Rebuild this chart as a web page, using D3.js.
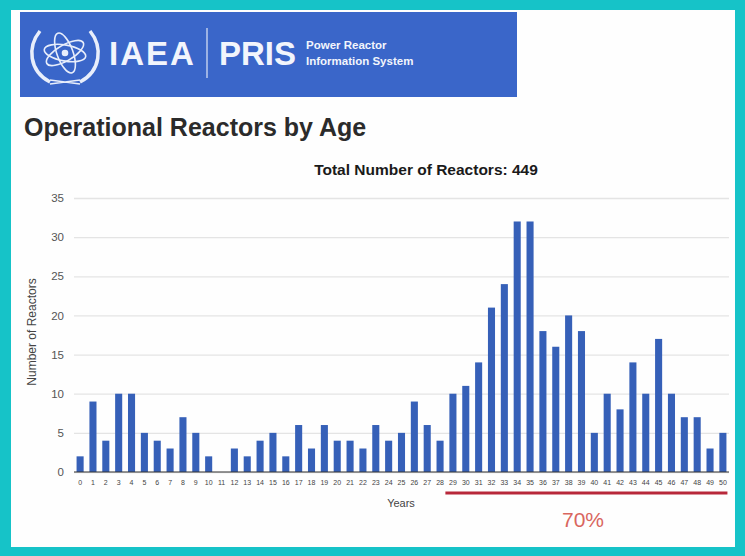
<!DOCTYPE html>
<html><head><meta charset="utf-8">
<script src="https://cdn.jsdelivr.net/npm/d3@7"></script>
<style>body{margin:0;background:#16c3c8;}svg{display:block;}</style>
</head><body><svg id="c" width="745" height="556"></svg>
<script>
const years = d3.range(0, 51);
const reactors = [2,9,4,10,10,5,4,3,7,5,2,0,3,2,4,5,2,6,3,6,4,4,3,6,4,5,9,6,4,10,11,14,21,24,32,32,18,16,20,18,5,10,8,14,10,17,10,7,7,3,5];
const yTicks = [0,5,10,15,20,25,30,35];
const titleText = "Operational Reactors by Age";
const subtitleText = "Total Number of Reactors: 449";
const highlightFrom = 29, highlightTo = 50, highlightLabel = "70%";

const FF = "Liberation Sans, Arial, sans-serif";
const svg = d3.select("#c");
svg.append("rect").attr("width",745).attr("height",556).attr("fill","#16c3c8");
svg.append("rect").attr("x",11).attr("y",10).attr("width",724).attr("height",537).attr("fill","#fefefe");

// banner
const bn = svg.append("g");
bn.append("rect").attr("x",20).attr("y",12).attr("width",497).attr("height",85).attr("fill","#3a66c9");
// logo
const lg = bn.append("g").attr("transform","translate(65,53)").attr("fill","none").attr("stroke","#e8eefb").attr("stroke-width",1.6);
lg.append("ellipse").attr("rx",8).attr("ry",21).attr("transform","rotate(-20)");
lg.append("ellipse").attr("rx",8).attr("ry",21).attr("transform","rotate(60)");
lg.append("ellipse").attr("rx",8).attr("ry",21).attr("transform","rotate(-80)");
lg.append("circle").attr("r",2.5).attr("fill","#e8eefb");
lg.append("path").attr("d","M-25,-22 C-38,-6 -36,18 -15,29").attr("stroke-width",3.5);
lg.append("path").attr("d","M25,-22 C38,-6 36,18 15,29").attr("stroke-width",3.5);
lg.append("path").attr("d","M-15,31 L15,27 M15,31 L-15,27").attr("stroke-width",1.5);
bn.append("text").attr("x",109).attr("y",65).attr("fill","#f2f5fc").attr("font-family",FF).attr("font-size",33).attr("font-weight","bold").attr("letter-spacing",2).text("IAEA");
bn.append("line").attr("x1",207).attr("x2",207).attr("y1",28).attr("y2",78).attr("stroke","#dfe6f7").attr("stroke-width",1.2);
bn.append("text").attr("x",219).attr("y",65).attr("fill","#f2f5fc").attr("font-family",FF).attr("font-size",33).attr("font-weight","bold").text("PRIS");
bn.append("text").attr("x",306).attr("y",49).attr("fill","#f2f5fc").attr("font-family",FF).attr("font-size",11.5).attr("font-weight","bold").text("Power Reactor");
bn.append("text").attr("x",306).attr("y",65).attr("fill","#f2f5fc").attr("font-family",FF).attr("font-size",11.5).attr("font-weight","bold").text("Information System");

svg.append("text").attr("x",24).attr("y",136).attr("fill","#2b2b2b").attr("font-family",FF).attr("font-size",25).attr("font-weight","bold").text(titleText);
svg.append("text").attr("x",426).attr("y",175).attr("text-anchor","middle").attr("fill","#1a1a1a").attr("font-family",FF).attr("font-size",15.5).attr("font-weight","bold").text(subtitleText);

const x0 = 74, x1 = 729, yB = 472, yT = 198;
const x = d3.scaleBand().domain(years).range([x0, x1]).paddingInner(0.45).paddingOuter(0.2);
const y = d3.scaleLinear().domain([0,35]).range([yB, yT]);

const yAxis = d3.axisLeft(y).tickValues(yTicks).tickSize(-(x1 - x0)).tickPadding(10);
const gy = svg.append("g").attr("transform",`translate(${x0},0)`).call(yAxis);
gy.select(".domain").remove();
gy.selectAll(".tick line").attr("stroke","#e4e4e4").attr("stroke-width",1.3);
gy.selectAll(".tick text").attr("fill","#555").attr("font-family",FF).attr("font-size",11.5);

svg.append("g").selectAll("rect").data(reactors).join("rect")
  .attr("x",(d,i)=>x(years[i])).attr("width",x.bandwidth())
  .attr("y",d=>y(d)).attr("height",d=>yB - y(d)).attr("fill","#3660b8");

svg.append("line").attr("x1",x0).attr("x2",x1).attr("y1",yB).attr("y2",yB).attr("stroke","#333").attr("stroke-width",1.2);

const xAxis = d3.axisBottom(x).tickSize(0).tickPadding(8);
const gx = svg.append("g").attr("transform",`translate(0,${yB})`).call(xAxis);
gx.select(".domain").remove();
gx.selectAll(".tick text").attr("fill","#444").attr("font-family",FF).attr("font-size",7);

svg.append("text").attr("x",401).attr("y",507).attr("text-anchor","middle").attr("fill","#444").attr("font-family",FF).attr("font-size",11).text("Years");
svg.append("text").attr("transform","translate(36,332) rotate(-90)").attr("text-anchor","middle").attr("fill","#444").attr("font-family",FF).attr("font-size",12).text("Number of Reactors");

svg.append("line").attr("x1",x(highlightFrom)-4).attr("x2",x(highlightTo)+x.bandwidth()+1).attr("y1",493).attr("y2",493).attr("stroke","#b8283a").attr("stroke-width",3);
svg.append("text").attr("x",583).attr("y",527).attr("text-anchor","middle").attr("fill","#d9665e").attr("font-family",FF).attr("font-size",21).text(highlightLabel);
</script></body></html>
